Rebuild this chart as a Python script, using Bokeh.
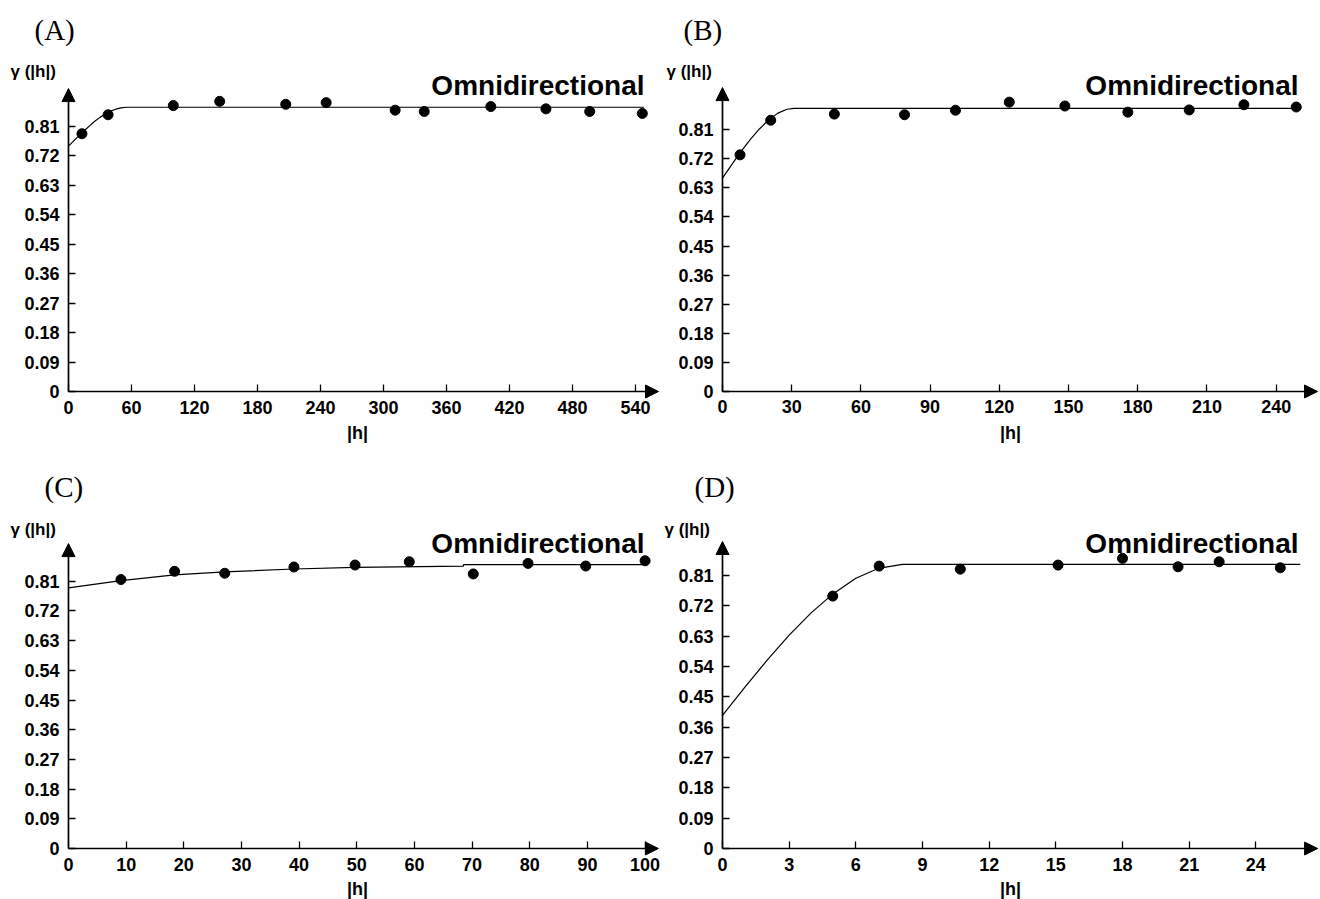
from bokeh.plotting import figure
from bokeh.models import Range1d, FixedTicker, NumeralTickFormatter, Label, Arrow, NormalHead
from bokeh.layouts import row, column
from bokeh.embed import file_html
from bokeh.resources import INLINE

# ---------------- data ----------------
panel_letters = ["(A)", "(B)", "(C)", "(D)"]
direction_label = "Omnidirectional"
y_axis_title = "γ (|h|)"
x_axis_title = "|h|"
y_ticks = [0, 0.09, 0.18, 0.27, 0.36, 0.45, 0.54, 0.63, 0.72, 0.81]

# Panel A
a_lag = [12.8, 37.7, 99.8, 144.0, 206.9, 245.4, 311.1, 338.8, 402.2, 454.7, 496.4, 546.5]
a_gamma = [0.788, 0.846, 0.874, 0.887, 0.878, 0.883, 0.860, 0.856, 0.871, 0.864, 0.856, 0.850]
a_model_lag = [0, 5, 10, 15, 20, 25, 30, 35, 40, 45, 50, 55, 548]
a_model_gamma = [0.750, 0.766, 0.782, 0.797, 0.812, 0.826, 0.838, 0.848, 0.857, 0.863, 0.867, 0.869, 0.869]
a_xticks = [0, 60, 120, 180, 240, 300, 360, 420, 480, 540]

# Panel B
b_lag = [7.6, 20.9, 48.5, 78.9, 101.0, 124.3, 148.4, 175.7, 202.3, 226.0, 248.7]
b_gamma = [0.732, 0.839, 0.858, 0.856, 0.870, 0.895, 0.883, 0.864, 0.871, 0.887, 0.880]
b_model_lag = [0, 4, 8, 12, 16, 20, 24, 28, 31, 250]
b_model_gamma = [0.660, 0.702, 0.742, 0.779, 0.812, 0.840, 0.861, 0.873, 0.876, 0.876]
b_xticks = [0, 30, 60, 90, 120, 150, 180, 210, 240]

# Panel C
c_lag = [9.1, 18.4, 27.1, 39.1, 49.7, 59.1, 70.2, 79.7, 89.7, 100.0]
c_gamma = [0.815, 0.840, 0.834, 0.853, 0.859, 0.869, 0.832, 0.864, 0.856, 0.872]
c_model_lag = [0, 9.1, 18.4, 27.1, 39.1, 49.7, 68.5, 68.5, 100.5]
c_model_gamma = [0.790, 0.812, 0.829, 0.838, 0.847, 0.852, 0.856, 0.860, 0.860]
c_xticks = [0, 10, 20, 30, 40, 50, 60, 70, 80, 90, 100]

# Panel D
d_lag = [4.96, 7.05, 10.7, 15.1, 18.0, 20.5, 22.35, 25.1]
d_gamma = [0.749, 0.838, 0.829, 0.841, 0.861, 0.836, 0.851, 0.833]
d_model_lag = [0, 1, 2, 3, 4, 5, 6, 7, 8.1, 26.0]
d_model_gamma = [0.395, 0.478, 0.558, 0.633, 0.700, 0.757, 0.802, 0.831, 0.843, 0.843]
d_xticks = [0, 3, 6, 9, 12, 15, 18, 21, 24]

# ---------------- layout / style ----------------
FONT = "Liberation Sans"


def make_panel(letter, lag, gamma, m_lag, m_gamma, xticks,
               width, height, x_range, y_range, x_tip, y_tip, txt):
    p = figure(frame_width=width, frame_height=height,
               x_range=Range1d(*x_range), y_range=Range1d(*y_range),
               output_backend="svg", toolbar_location=None,
               min_border=0, min_border_left=0, min_border_right=0,
               min_border_top=0, min_border_bottom=0,
               background_fill_color="white", border_fill_color="white",
               outline_line_color=None)
    p.grid.visible = False

    p.xaxis.ticker = FixedTicker(ticks=xticks)
    p.yaxis.ticker = FixedTicker(ticks=y_ticks)
    p.yaxis.formatter = NumeralTickFormatter(format="0.[00]")
    for ax in (p.xaxis[0], p.yaxis[0]):
        ax.fixed_location = 0
        ax.axis_line_color = None
        ax.major_tick_in = 7
        ax.major_tick_out = 0
        ax.major_tick_line_color = "black"
        ax.major_tick_line_width = 1.3
        ax.minor_tick_line_color = None
        ax.major_label_text_font = FONT
        ax.major_label_text_font_style = "bold"
        ax.major_label_text_font_size = "18px"
        ax.major_label_text_color = "black"
        ax.major_label_standoff = 9

    # axes lines with arrow heads
    p.add_layout(Arrow(end=NormalHead(size=13, fill_color="black", line_color="black", line_width=1),
                       x_start=0, y_start=0, x_end=x_tip, y_end=0,
                       line_color="black", line_width=1.7))
    p.add_layout(Arrow(end=NormalHead(size=13, fill_color="black", line_color="black", line_width=1),
                       x_start=0, y_start=0, x_end=0, y_end=y_tip,
                       line_color="black", line_width=1.7))

    # model and experimental semivariogram
    p.line(m_lag, m_gamma, line_color="black", line_width=1.2)
    p.scatter(lag, gamma, size=10, marker="circle", fill_color="black", line_color="black")

    # texts (screen px from the panel's bottom-left corner)
    (lx, ly), (gx, gy), (ox, oy), (hx, hy) = txt
    p.add_layout(Label(x=lx, y=ly, x_units="screen", y_units="screen", text=letter,
                       text_font="Liberation Serif", text_font_size="29px",
                       text_baseline="middle", text_align="left", text_color="black"))
    p.add_layout(Label(x=gx, y=gy, x_units="screen", y_units="screen", text=y_axis_title,
                       text_font=FONT, text_font_style="bold", text_font_size="17px",
                       text_baseline="middle", text_align="left", text_color="black"))
    p.add_layout(Label(x=ox, y=oy, x_units="screen", y_units="screen", text=direction_label,
                       text_font=FONT, text_font_style="bold", text_font_size="28px",
                       text_baseline="alphabetic", text_align="right", text_color="black"))
    p.add_layout(Label(x=hx, y=hy, x_units="screen", y_units="screen", text=x_axis_title,
                       text_font=FONT, text_font_style="bold", text_font_size="18px",
                       text_baseline="middle", text_align="center", text_color="black"))
    return p


pA = make_panel(panel_letters[0], a_lag, a_gamma, a_model_lag, a_model_gamma, a_xticks,
                660, 449, (-64.76, 563.81), (-0.1773, 1.1953), 561.9, 0.926,
                [(34, 420), (10, 378), (644, 364), (357, 17)])
pB = make_panel(panel_letters[1], b_lag, b_gamma, b_model_lag, b_model_gamma, b_xticks,
                660, 449, (-26.87, 259.2), (-0.1794, 1.2094), 257.9, 0.940,
                [(23, 420), (6, 378), (638, 364), (350, 17)])
pC = make_panel(panel_letters[2], c_lag, c_gamma, c_model_lag, c_model_gamma, c_xticks,
                660, 450, (-11.79, 102.67), (-0.1545, 1.2091), 102.3, 0.924,
                [(44, 413), (10, 370), (644, 356), (357, 11)])
pD = make_panel(panel_letters[3], d_lag, d_gamma, d_model_lag, d_model_gamma, d_xticks,
                660, 450, (-2.790, 26.91), (-0.1513, 1.1840), 26.78, 0.911,
                [(34, 413), (4, 370), (638, 356), (350, 11)])

layout = column(row(pA, pB), row(pC, pD))

open("out.html", "w").write(file_html(layout, INLINE))
